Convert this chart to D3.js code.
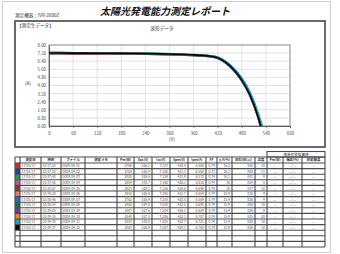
<!DOCTYPE html>
<html>
<head>
<meta charset="utf-8">
<script src="https://cdn.jsdelivr.net/npm/d3@7/dist/d3.min.js"></script>
<style>
  body { margin: 0; background: #fff; }
  text { font-family: "Noto Sans CJK JP", "Noto Sans", sans-serif; }
</style>
</head>
<body>
<div id="chart"></div>
<script>
// ---- data ----
var voltages = [0, 60, 120, 180, 240, 300, 360, 400, 420, 440, 460, 480, 500, 520];
var seriesColors = ['#e3232b', '#20409a', '#17a043', '#c451a9', '#8a3b1f', '#ea7b7b',
                    '#1f70c1', '#1a6e3c', '#6b3d99', '#f0831f', '#13a3c3', '#000000'];
var seriesVoc = [526.1, 526.4, 526.4, 530.7, 529.1, 526.8, 526.9, 529.8, 527.6, 527.5, 530.8, 526.9];
var seriesCurrents = [
  [7.16, 7.15, 7.14, 7.12, 7.10, 7.06, 6.97, 6.86, 6.70, 6.24, 5.52, 4.48, 3.02, 0.86],
  [7.16, 7.15, 7.14, 7.12, 7.10, 7.05, 6.96, 6.85, 6.69, 6.23, 5.50, 4.47, 3.04, 0.90],
  [7.16, 7.15, 7.14, 7.13, 7.11, 7.07, 6.98, 6.87, 6.71, 6.25, 5.53, 4.50, 3.06, 0.90],
  [7.16, 7.15, 7.15, 7.13, 7.11, 7.08, 7.00, 6.90, 6.76, 6.33, 5.66, 4.70, 3.34, 1.30],
  [7.16, 7.15, 7.14, 7.13, 7.11, 7.07, 6.99, 6.89, 6.74, 6.30, 5.61, 4.62, 3.22, 1.12],
  [7.20, 7.19, 7.18, 7.16, 7.14, 7.10, 7.01, 6.90, 6.73, 6.27, 5.55, 4.52, 3.07, 0.96],
  [7.26, 7.24, 7.22, 7.19, 7.16, 7.10, 6.99, 6.86, 6.68, 6.20, 5.47, 4.44, 3.01, 0.94],
  [7.25, 7.24, 7.22, 7.20, 7.18, 7.14, 7.05, 6.94, 6.79, 6.36, 5.68, 4.70, 3.32, 1.26],
  [7.20, 7.19, 7.18, 7.16, 7.14, 7.10, 7.02, 6.91, 6.76, 6.31, 5.61, 4.60, 3.17, 1.04],
  [7.21, 7.20, 7.19, 7.17, 7.15, 7.11, 7.02, 6.92, 6.77, 6.32, 5.62, 4.61, 3.16, 1.02],
  [7.21, 7.20, 7.19, 7.17, 7.15, 7.12, 7.04, 6.94, 6.80, 6.38, 5.70, 4.73, 3.36, 1.32],
  [7.21, 7.20, 7.19, 7.17, 7.15, 7.11, 7.02, 6.91, 6.75, 6.29, 5.56, 4.53, 3.08, 0.96]
];
var xTicks = [0, 60, 120, 180, 240, 300, 360, 420, 480, 540, 600];
var yTicks = [0, 0.8, 1.6, 2.4, 3.2, 4.0, 4.8, 5.6, 6.4, 7.2, 8.0];

var tableHeaders = ['', '測定日', '時刻', 'ファイル', '測定メモ', 'Pm(W)', 'Voc(V)', 'Isc(A)', 'Vpm(V)', 'Ipm(A)',
                    'FF', 'η A(%)', '日射(W/㎡)', '温度', 'Pm(W)', '補正(%)', '判定結果'];
var groupHeader = '基準状態換算値';
var rowDates = ['17/05/17', '17/05/17', '17/05/17', '17/05/17', '17/05/17', '17/05/17',
                '17/05/17', '17/05/17', '17/05/17', '17/05/17', '17/05/17', '17/05/17'];
var rowTimes = ['10:37:25', '10:37:32', '10:37:40', '10:37:56', '10:38:07', '10:38:20',
                '10:38:46', '10:38:54', '10:39:05', '10:39:18', '10:39:30', '10:39:37'];
var rowFiles = ['0009-04-01', '0009-04-02', '0009-04-03', '0009-04-04', '0009-04-05', '0009-04-06',
                '0009-04-07', '0009-04-08', '0009-04-09', '0009-04-10', '0009-04-11', '0009-04-12'];
var rowPm = ['2760', '2760', '2805', '2804', '2823', '2855', '2762', '2862', '2807', '2840', '2883', '2863'];
var rowIsc = ['7.157', '7.160', '7.159', '7.160', '7.156', '7.195', '7.258', '7.250', '7.204', '7.206', '7.205', '7.207'];
var rowVpm = ['420.4', '421.1', '421.9', '426.1', '426.6', '421.7', '420.8', '422.8', '426.1', '422.1', '422.7', '420.1'];
var rowIpm = ['6.560', '6.560', '6.578', '6.610', '6.646', '6.654', '6.569', '6.695', '6.629', '6.707', '6.721', '6.768'];
var rowFF = ['0.74', '0.73', '0.74', '0.74', '0.74', '0.74', '0.74', '0.74', '0.74', '0.74', '0.74', '0.74'];
var rowEta = ['16.2', '16.1', '16.1', '16', '16', '15.9', '15.9', '15.9', '15.9', '15.9', '15.9', '15.9'];
var rowIrr = ['888', '888', '881', '824', '837', '832', '826', '826', '820', '825', '826', '826'];
var rowTemp = ['10', '11', '9', '8', '10', '9', '9', '10', '9', '20', '10', '10'];
var emptyRows = 3;

// ---- layout ----
var W = 340, H = 254;
var svg = d3.select('#chart').append('svg').attr('width', W).attr('height', H);

// page frame
svg.append('rect').attr('x', 2.5).attr('y', 1.5).attr('width', 328).attr('height', 251)
  .attr('fill', '#fff').attr('stroke', '#cfcfcf').attr('stroke-width', 1);

svg.append('text').attr('x', 165).attr('y', 15).attr('text-anchor', 'middle')
  .attr('font-size', 10).attr('font-weight', 'bold').attr('font-style', 'italic')
  .attr('fill', '#111').text('太陽光発電能力測定レポート');
svg.append('text').attr('x', 15).attr('y', 17).attr('font-size', 4.6).attr('fill', '#333')
  .text('測定機器：IVR-2000Z');

// chart panel
svg.append('rect').attr('x', 15).attr('y', 21).attr('width', 310).attr('height', 126)
  .attr('fill', '#fff').attr('stroke', '#5a5a5a').attr('stroke-width', 1.8);
svg.append('text').attr('x', 17).attr('y', 26.5).attr('font-size', 4.6).attr('fill', '#333')
  .text('【測定生データ】');
svg.append('text').attr('x', 162).attr('y', 30).attr('text-anchor', 'middle')
  .attr('font-size', 4.6).attr('fill', '#333').text('波形データ');

var x = d3.scaleLinear().domain([0, 600]).range([49, 290]);
var y = d3.scaleLinear().domain([0, 8]).range([126, 45]);

var g = svg.append('g');
g.append('g').selectAll('line').data(xTicks).join('line')
  .attr('x1', function (d) { return x(d); }).attr('x2', function (d) { return x(d); })
  .attr('y1', y(0)).attr('y2', y(8)).attr('stroke', '#dedede').attr('stroke-width', 0.9);
g.append('g').selectAll('line').data(yTicks).join('line')
  .attr('x1', x(0)).attr('x2', x(600))
  .attr('y1', function (d) { return y(d); }).attr('y2', function (d) { return y(d); })
  .attr('stroke', '#dedede').attr('stroke-width', 0.9);
g.append('rect').attr('x', x(0)).attr('y', y(8)).attr('width', x(600) - x(0)).attr('height', y(0) - y(8))
  .attr('fill', 'none').attr('stroke', '#8a8a8a').attr('stroke-width', 0.9);

var xAxis = g.append('g').attr('transform', 'translate(0,' + y(0) + ')')
  .call(d3.axisBottom(x).tickValues(xTicks).tickSize(2).tickFormat(d3.format('d')));
var yAxis = g.append('g').attr('transform', 'translate(' + x(0) + ',0)')
  .call(d3.axisLeft(y).tickValues(yTicks).tickSize(0).tickPadding(3).tickFormat(d3.format('.2f')));
[xAxis, yAxis].forEach(function (a) {
  a.select('.domain').attr('stroke', '#555').attr('stroke-width', 0.9);
  a.selectAll('.tick line').attr('stroke', '#555').attr('stroke-width', 0.6);
  a.selectAll('text').attr('font-size', 4.4).attr('fill', '#444').attr('font-family', '"DejaVu Sans", sans-serif');
});
xAxis.selectAll('text').attr('dy', '0.9em');

svg.append('text').attr('x', 25).attr('y', 85).attr('font-size', 4.6).attr('fill', '#444').text('(A)');
svg.append('text').attr('x', 169).attr('y', 141).attr('font-size', 4.6).attr('fill', '#444').text('(V)');

var line = d3.line()
  .curve(d3.curveMonotoneX)
  .x(function (d) { return x(d[0]); })
  .y(function (d) { return y(d[1]); });

var curves = seriesCurrents.map(function (cur, i) {
  var pts = voltages.map(function (v, j) { return [v, cur[j]]; });
  pts.push([seriesVoc[i], 0]);
  return { color: seriesColors[i], pts: pts };
});
g.append('g').selectAll('path').data(curves).join('path')
  .attr('d', function (d) { return line(d.pts); })
  .attr('fill', 'none')
  .attr('stroke', function (d) { return d.color; })
  .attr('stroke-width', 1.6);

// ---- table ----
var colEdges = [15, 20, 41, 61, 85, 117, 134, 152, 170, 188, 206, 217, 232, 255, 267, 283, 302, 325];
var headTop = 157, headH = 6, rowH = 5.6;
var nRows = rowDates.length + emptyRows;
var tableBottom = headTop + headH + nRows * rowH;
var t = svg.append('g');

// group header
t.append('rect').attr('x', colEdges[14]).attr('y', 151.5).attr('width', colEdges[17] - colEdges[14])
  .attr('height', headTop - 151.5).attr('fill', '#fff').attr('stroke', '#4a4a4a').attr('stroke-width', 1.1);
t.append('text').attr('x', (colEdges[14] + colEdges[17]) / 2).attr('y', 155.8).attr('text-anchor', 'middle')
  .attr('font-size', 3.6).attr('fill', '#333').text(groupHeader);

// color swatches
t.append('g').selectAll('rect').data(seriesColors).join('rect')
  .attr('x', colEdges[0]).attr('y', function (d, i) { return headTop + headH + i * rowH; })
  .attr('width', colEdges[1] - colEdges[0]).attr('height', rowH).attr('fill', function (d) { return d; });

// grid
var hLines = d3.range(nRows + 2).map(function (i) { return i === 0 ? headTop : headTop + headH + (i - 1) * rowH; });
t.append('g').selectAll('line').data(hLines).join('line')
  .attr('x1', colEdges[0]).attr('x2', colEdges[17])
  .attr('y1', function (d) { return d; }).attr('y2', function (d) { return d; })
  .attr('stroke', '#4a4a4a').attr('stroke-width', 1.1);
t.append('g').selectAll('line').data(colEdges).join('line')
  .attr('x1', function (d) { return d; }).attr('x2', function (d) { return d; })
  .attr('y1', headTop).attr('y2', tableBottom)
  .attr('stroke', '#4a4a4a').attr('stroke-width', 1.1);

// header text
t.append('g').selectAll('text').data(tableHeaders).join('text')
  .attr('x', function (d, i) { return (colEdges[i] + colEdges[i + 1]) / 2; })
  .attr('y', headTop + 4.3).attr('text-anchor', 'middle')
  .attr('font-size', 3.4).attr('font-weight', 'bold').attr('fill', '#333').text(function (d) { return d; });

// row text
var rows = rowDates.map(function (d, i) {
  return ['', d, rowTimes[i], rowFiles[i], '', rowPm[i], seriesVoc[i].toFixed(1), rowIsc[i], rowVpm[i],
          rowIpm[i], rowFF[i], rowEta[i], rowIrr[i], rowTemp[i], '—', '—/—', '—'];
});
rows.forEach(function (r, i) {
  t.append('g').selectAll('text').data(r).join('text')
    .attr('x', function (d, j) { return j < 4 ? colEdges[j] + 1.5 : (j < 14 ? colEdges[j + 1] - 2 : (colEdges[j] + colEdges[j + 1]) / 2); })
    .attr('y', headTop + headH + i * rowH + 4.1)
    .attr('text-anchor', function (d, j) { return j < 4 ? 'start' : (j < 14 ? 'end' : 'middle'); })
    .attr('font-size', 3.4).attr('fill', '#555').text(function (d) { return d; });
});
</script>
</body>
</html>
